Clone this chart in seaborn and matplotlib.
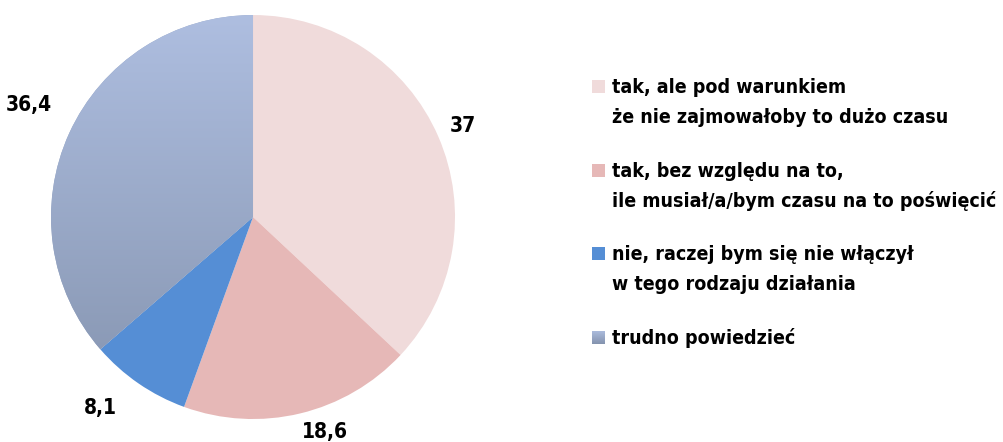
import numpy as np
import seaborn as sns
import matplotlib.pyplot as plt
from matplotlib.patches import Rectangle
from matplotlib.colors import LinearSegmentedColormap

categories = [
    "tak, ale pod warunkiem\nże nie zajmowałoby to dużo czasu",
    "tak, bez względu na to,\nile musiał/a/bym czasu na to poświęcić",
    "nie, raczej bym się nie włączył\nw tego rodzaju działania",
    "trudno powiedzieć",
]
values = [37, 18.6, 8.1, 36.4]
value_labels = ["37", "18,6", "8,1", "36,4"]

colors = ["#F0DBDB", "#E6B8B7", "#558ED5", "#99A9C6"]
grad_top, grad_bottom = "#AEBEE0", "#8493AE"
label_dist = [1.13, 1.12, 1.21, 1.24]
label_shift = [0, 5, -4, -2]  # degrees

W, H = 1004, 442

sns.set_theme(style="white")
plt.rcParams["font.family"] = ["DejaVu Sans"]
plt.rcParams["font.stretch"] = "condensed"
plt.rcParams["text.color"] = "black"

fig = plt.figure(figsize=(W / 100, H / 100), dpi=100)
ax = fig.add_axes([0.0508, 0.052, 0.4024, 0.914])
wedges, _ = ax.pie(values, colors=colors, startangle=90, counterclock=False,
                   radius=1, wedgeprops={"linewidth": 0})
ax.set_xlim(-1, 1)
ax.set_ylim(-1, 1)
ax.set_aspect("equal")
ax.axis("off")

# vertical gradient on the last slice
cmap = LinearSegmentedColormap.from_list("g", [grad_bottom, grad_top])
grad = np.linspace(0, 1, 256).reshape(-1, 1)
im = ax.imshow(grad, cmap=cmap, origin="lower", extent=[-1, 1, -1, 1],
               aspect="auto", zorder=2)
im.set_clip_path(wedges[3])

for w, lab, d, s in zip(wedges, value_labels, label_dist, label_shift):
    ang = np.deg2rad((w.theta1 + w.theta2) / 2 + s)
    ax.text(d * np.cos(ang), d * np.sin(ang), lab, ha="center", va="center",
            fontsize=15, fontweight="bold", color="black", clip_on=False)

# legend, drawn by hand so the marker sits on the first line
leg_x, text_x, base0, step, line_h, sq = 592, 612, 93, 83.7, 30, 13
for i, (cat, w) in enumerate(zip(categories, wedges)):
    base = base0 + i * step
    box = [leg_x / W, 1 - base / H, sq / W, sq / H]
    if i == 3:
        lax = fig.add_axes(box)
        lax.imshow(grad, cmap=cmap, origin="lower", aspect="auto")
        lax.axis("off")
    else:
        fig.add_artist(Rectangle(box[:2], box[2], box[3], transform=fig.transFigure,
                                 facecolor=w.get_facecolor(), linewidth=0))
    for j, line in enumerate(cat.split("\n")):
        fig.text(text_x / W, 1 - (base + j * line_h) / H, line, va="baseline",
                 ha="left", fontsize=14, fontweight="bold", color="black")

fig.savefig("out.png", dpi=100)
